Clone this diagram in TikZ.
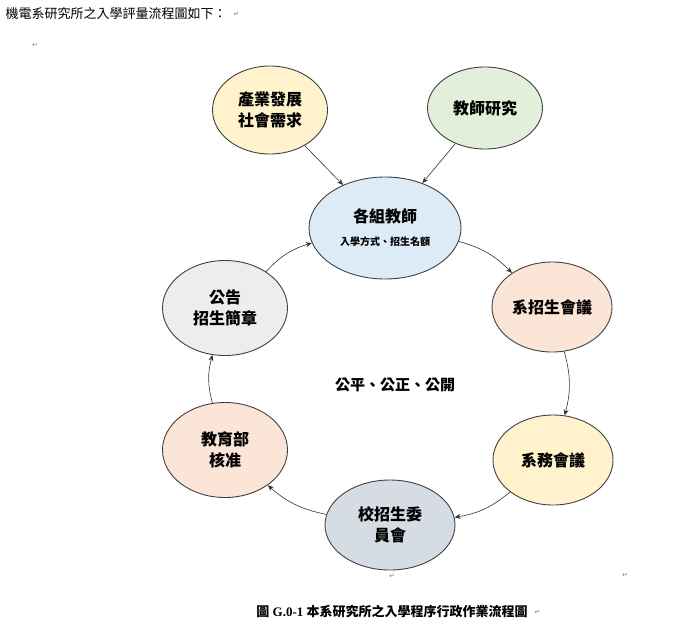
\documentclass[tikz,border=0pt]{standalone}
\usepackage{fontspec}
\setmainfont{Liberation Serif}
\newfontfamily\cjk{Noto Sans CJK TC}
\newfontfamily\symf{DejaVu Sans}
\usetikzlibrary{shapes.geometric,arrows.meta}

\definecolor{cyellow}{HTML}{FFF2CC}
\definecolor{cgreen}{HTML}{E2EFDA}
\definecolor{cblue}{HTML}{DDEBF7}
\definecolor{cpeach}{HTML}{FBE5D6}
\definecolor{cslate}{HTML}{D6DCE4}
\definecolor{cgray}{HTML}{EDEDED}

\tikzset{
  blob/.style={ellipse, draw=black!75, line width=0.9pt, align=center,
    font=\cjk\bfseries\fontsize{16}{21}\selectfont, minimum width=120pt, minimum height=90pt, inner sep=1pt},
  flow/.style={->, >={Stealth[length=6pt,width=5pt]}, line width=0.6pt, black!80},
  retmark/.style={font=\symf\fontsize{7}{7}\selectfont, text=black!50}
}

\begin{document}
\begin{tikzpicture}[x=1pt,y=-1pt]
    \useasboundingbox (0,0) rectangle (700,634);
    \node[anchor=west, font=\cjk\fontsize{13}{16}\selectfont] (title) at (2,14) {機電系研究所之入學評量流程圖如下：};
    \node[retmark, anchor=west] (m1) at (title.east) {↵};
    \node[retmark] (m2) at (35,45) {↵};
    \node[blob, fill=cyellow, minimum width=115pt, minimum height=88pt] (need) at (270,110) {產業發展\\社會需求};
    \node[blob, fill=cgreen, minimum width=115pt, minimum height=82pt] (res) at (485,108) {教師研究};
    \node[blob, fill=cblue, minimum width=152pt, minimum height=102pt] (teach) at (385,228)
        {各組教師\\[2pt]{\fontsize{10}{12}\selectfont 入學方式、招生名額}};
    \node[blob, fill=cpeach] (dept) at (552,307) {系招生會議};
    \node[blob, fill=cyellow] (affair) at (553,460) {系務會議};
    \node[blob, fill=cslate, minimum width=130pt] (school) at (390,525) {校招生委\\員會};
    \node[blob, fill=cpeach, minimum width=125pt, minimum height=95pt] (moe) at (225,450) {教育部\\核准};
    \node[blob, fill=cgray, minimum width=125pt, minimum height=95pt] (notice) at (225,308) {公告\\招生簡章};
    \node[font=\cjk\bfseries\fontsize{15}{18}\selectfont] (fair) at (395,385) {公平、公正、公開};
    \node[retmark] (m3) at (392,576) {↵};
    \node[retmark] (m4) at (625,575) {↵};
    \node[font=\bfseries\fontsize{13}{16}\selectfont] (cap) at (392,612) {{\cjk 圖} G.0-1 {\cjk 本系研究所之入學程序行政作業流程圖}};
    \node[retmark, anchor=west] (m5) at (cap.east) {↵};
    \draw[flow] (need) -- (teach);
    \draw[flow] (res) -- (teach);
    \draw[flow] (teach) to[bend left=15] (dept);
    \draw[flow] (dept) to[bend left=15] (affair);
    \draw[flow] (affair) to[bend left=15] (school);
    \draw[flow] (school) to[bend left=15] (moe);
    \draw[flow] (moe) to[bend left=15] (notice);
    \draw[flow] (notice) to[bend left=15] (teach);
\end{tikzpicture}
\end{document}
